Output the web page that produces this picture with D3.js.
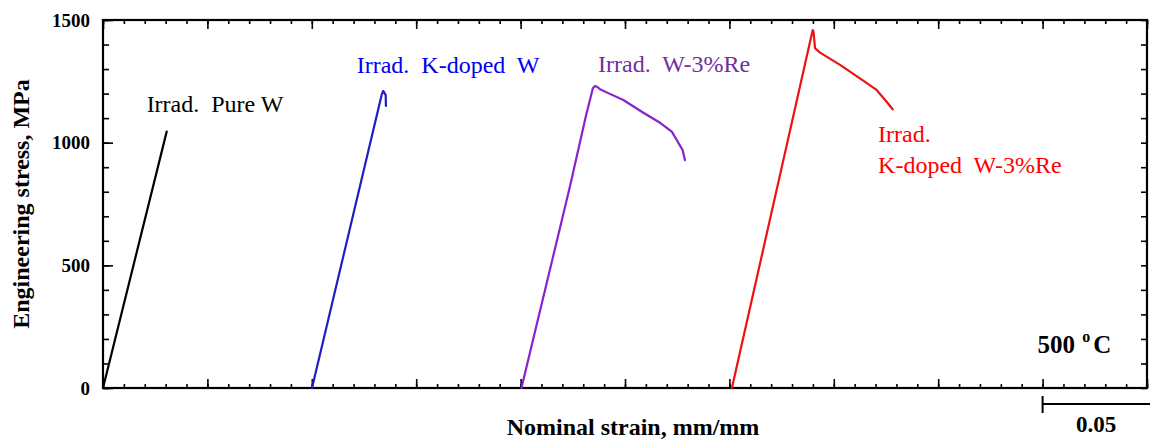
<!DOCTYPE html>
<html>
<head>
<meta charset="utf-8">
<script src="https://cdn.jsdelivr.net/npm/d3@7"></script>
<style>
  body { margin: 0; background: #fff; }
  svg text { font-family: "Liberation Serif", "Times New Roman", serif; white-space: pre; }
</style>
</head>
<body>
<div id="chart"></div>
<script>
// strain (mm/mm), stress (MPa)
const pureW = [[0, 0], [0.0305, 1045]];
const kDopedW = [[0.1001, 0], [0.1335, 1196], [0.1342, 1211], [0.1354, 1194], [0.1355, 1150]];
const w3Re = [
  [0.2004, 0], [0.2236, 820], [0.2312, 1106], [0.2346, 1222], [0.2356, 1231], [0.2366, 1228],
  [0.238, 1218], [0.2412, 1205], [0.2492, 1174], [0.2588, 1122], [0.2668, 1081], [0.2724, 1045],
  [0.2745, 1015], [0.2762, 990], [0.2776, 970], [0.2787, 929]
];
const kDopedW3Re = [
  [0.3012, 0], [0.3399, 1459], [0.3403, 1452], [0.3410, 1385], [0.3434, 1367],
  [0.3530, 1317], [0.3625, 1262], [0.3705, 1215], [0.3753, 1167], [0.3782, 1136]
];

const seriesNames = ["Pure W", "K-doped W", "W-3%Re", "K-doped W-3%Re"];
const seriesValues = [pureW, kDopedW, w3Re, kDopedW3Re];
const lineColors = ["#000000", "#1f1fc0", "#8a22cc", "#ee1111"];

const yTickLabels = [0, 500, 1000, 1500];
const xMajorTicks = d3.range(0, 0.5001, 0.05);
const xMinorTicks = d3.range(0, 0.5001, 0.01);
const yMinorTicks = d3.range(0, 1501, 100);

const config = {
  width: 1150,
  height: 439,
  margin: { top: 20, right: 3, bottom: 51, left: 103 },
};

const width = config.width - config.margin.left - config.margin.right;
const height = config.height - config.margin.top - config.margin.bottom;

const svg = d3
  .select("#chart")
  .append("svg")
  .attr("width", config.width)
  .attr("height", config.height);

const g = svg
  .append("g")
  .attr("transform", `translate(${config.margin.left},${config.margin.top})`);

const xScale = d3.scaleLinear().domain([0, 0.5]).range([0, width]);
const yScale = d3.scaleLinear().domain([0, 1500]).range([height, 0]);

// inward ticks on all four sides, minor then major
function tickGroup(axis, transform) {
  const grp = g.append("g").attr("transform", transform).call(axis);
  grp.select(".domain").remove();
  grp.selectAll(".tick line").attr("stroke", "#000").attr("stroke-width", 1.6);
  return grp;
}

tickGroup(d3.axisBottom(xScale).tickValues(xMinorTicks).tickSize(-4).tickFormat(""), `translate(0,${height})`);
tickGroup(d3.axisBottom(xScale).tickValues(xMajorTicks).tickSize(-9).tickFormat(""), `translate(0,${height})`);
tickGroup(d3.axisTop(xScale).tickValues(xMinorTicks).tickSize(-4).tickFormat(""), "translate(0,0)");
tickGroup(d3.axisTop(xScale).tickValues(xMajorTicks).tickSize(-9).tickFormat(""), "translate(0,0)");
tickGroup(d3.axisRight(yScale).tickValues(yMinorTicks).tickSize(-6).tickFormat(""), `translate(${width},0)`);
tickGroup(d3.axisLeft(yScale).tickValues(yMinorTicks).tickSize(-6).tickFormat(""), "translate(0,0)");

const yAxisGroup = tickGroup(
  d3.axisLeft(yScale).tickValues(yTickLabels).tickSize(-10).tickPadding(13).tickFormat(d3.format("d")),
  "translate(0,0)"
);
yAxisGroup
  .selectAll(".tick text")
  .attr("fill", "#000")
  .style("font-size", "19px")
  .style("font-weight", "bold");

// frame
g.append("rect")
  .attr("width", width)
  .attr("height", height)
  .attr("fill", "none")
  .attr("stroke", "#000")
  .attr("stroke-width", 2.2);

// curves
const line = d3
  .line()
  .x((d) => xScale(d[0]))
  .y((d) => yScale(d[1]));

g.selectAll(".curve")
  .data(seriesValues)
  .join("path")
  .attr("class", "curve")
  .attr("d", line)
  .attr("fill", "none")
  .attr("stroke", (d, i) => lineColors[i])
  .attr("stroke-width", 2.2)
  .attr("stroke-linejoin", "round")
  .attr("stroke-linecap", "round");

// curve labels, anchored in data units
const annotations = [
  { lines: ["Irrad.  Pure W"], x: 0.0209, y: 1126, color: "#000000" },
  { lines: ["Irrad.  K-doped  W"], x: 0.1215, y: 1283, color: "#0000ee" },
  { lines: ["Irrad.  W-3%Re"], x: 0.2371, y: 1289, color: "#7030a0" },
  { lines: ["Irrad.", "K-doped  W-3%Re"], x: 0.3712, y: 1002, color: "#ff0000" },
];

annotations.forEach((a) => {
  const t = g
    .append("text")
    .attr("x", xScale(a.x))
    .attr("y", yScale(a.y))
    .attr("fill", a.color)
    .style("font-size", "24px");
  a.lines.forEach((s, i) => {
    t.append("tspan")
      .attr("x", xScale(a.x))
      .attr("dy", i === 0 ? 0 : 31)
      .text(s);
  });
});

// temperature
const temp = g
  .append("text")
  .attr("x", xScale(0.4476))
  .attr("y", yScale(144))
  .attr("fill", "#000")
  .style("font-size", "25px")
  .style("font-weight", "bold");
temp.append("tspan").text("500 ");
temp.append("tspan").attr("dy", -11).attr("dx", 1).style("font-size", "16px").text("o");
temp.append("tspan").attr("dy", 11).attr("dx", 3).text("C");

// axis titles
svg
  .append("text")
  .attr("text-anchor", "middle")
  .attr("x", 633)
  .attr("y", 435)
  .attr("fill", "#000")
  .style("font-size", "24px")
  .style("font-weight", "bold")
  .text("Nominal strain, mm/mm");

svg
  .append("text")
  .attr("text-anchor", "middle")
  .attr("transform", "rotate(-90)")
  .attr("x", -204)
  .attr("y", 29)
  .attr("fill", "#000")
  .style("font-size", "24px")
  .style("font-weight", "bold")
  .text("Engineering stress, MPa");

// scale bar: 0.05 strain
const barLeft = config.margin.left + xScale(0.45);
const barRight = config.margin.left + xScale(0.5) + 3;
svg
  .append("line")
  .attr("x1", barLeft)
  .attr("x2", barRight)
  .attr("y1", 404)
  .attr("y2", 404)
  .attr("stroke", "#000")
  .attr("stroke-width", 2);
svg
  .append("line")
  .attr("x1", barLeft)
  .attr("x2", barLeft)
  .attr("y1", 396)
  .attr("y2", 413)
  .attr("stroke", "#000")
  .attr("stroke-width", 2);
svg
  .append("text")
  .attr("x", 1076)
  .attr("y", 432)
  .attr("fill", "#000")
  .style("font-size", "23px")
  .style("font-weight", "bold")
  .text("0.05");
</script>
</body>
</html>
